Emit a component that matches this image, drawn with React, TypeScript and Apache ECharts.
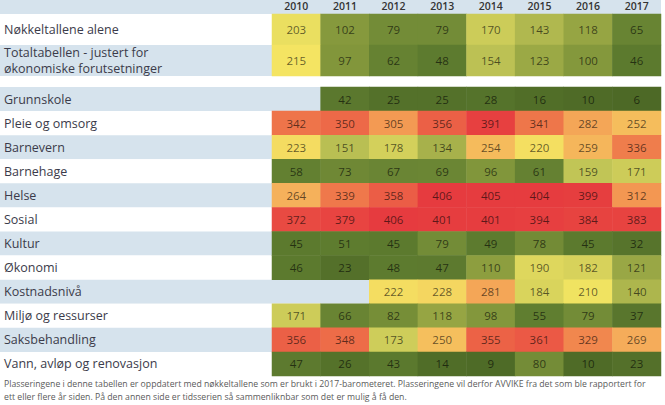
import React, { useEffect, useRef } from "react";
import * as echarts from "echarts";

const years = ["2010", "2011", "2012", "2013", "2014", "2015", "2016", "2017"];

const topRows = ["Nøkkeltallene alene", "Totaltabellen - justert for\nøkonomiske forutsetninger"];
const topValues: (number | null)[][] = [
  [203, 102, 79, 79, 170, 143, 118, 65],
  [215, 97, 62, 48, 154, 123, 100, 46],
];

const sectorRows = [
  "Grunnskole",
  "Pleie og omsorg",
  "Barnevern",
  "Barnehage",
  "Helse",
  "Sosial",
  "Kultur",
  "Økonomi",
  "Kostnadsnivå",
  "Miljø og ressurser",
  "Saksbehandling",
  "Vann, avløp og renovasjon",
];
const grunnskole = [null, 42, 25, 25, 28, 16, 10, 6];
const pleie = [342, 350, 305, 356, 391, 341, 282, 252];
const barnevern = [223, 151, 178, 134, 254, 220, 259, 336];
const barnehage = [58, 73, 67, 69, 96, 61, 159, 171];
const helse = [264, 339, 358, 406, 405, 404, 399, 312];
const sosial = [372, 379, 406, 401, 401, 394, 384, 383];
const kultur = [45, 51, 45, 79, 49, 78, 45, 32];
const okonomi = [46, 23, 48, 47, 110, 190, 182, 121];
const kostnad = [null, null, 222, 228, 281, 184, 210, 140];
const miljo = [171, 66, 82, 118, 98, 55, 79, 37];
const saks = [356, 348, 173, 250, 355, 361, 329, 269];
const vann = [47, 26, 43, 14, 9, 80, 10, 23];
const sectorValues: (number | null)[][] = [
  grunnskole, pleie, barnevern, barnehage, helse, sosial, kultur, okonomi, kostnad, miljo, saks, vann,
];

const footnote =
  "Plasseringene i denne tabellen er oppdatert med nøkkeltallene som er brukt i 2017-barometeret. Plasseringene vil derfor AVVIKE fra det som ble rapportert for\nett eller flere år siden. På den annen side er tidsserien så sammenliknbar som det er mulig å få den.";

const BLUE = "#d6e3ed";
const TEXT = "#3b3b4a";
const FONT = "'Open Sans', sans-serif";

function toData(rows: (number | null)[][]) {
  const out: any[] = [];
  rows.forEach((r, y) =>
    r.forEach((v, x) => {
      if (v !== null) out.push([x, y, v]);
    })
  );
  return out;
}

export default function App() {
  const ref = useRef<HTMLDivElement>(null);
  useEffect(() => {
    if (!ref.current) return;
    const chart = echarts.init(ref.current, undefined, { renderer: "svg" });
    const W = 665;
    const gridLeft = 272;
    const gridRight = 4;
    const cellLabel = {
      show: true,
      formatter: (p: any) => String(p.value[2]),
      fontFamily: FONT,
      fontSize: 11.5,
      color: "rgba(0,0,0,0.6)",
    };
    const labelAxis = (gridIndex: number, data: string[], colors: string[]) => ({
      type: "category",
      gridIndex,
      data,
      inverse: true,
      axisLine: { show: false },
      axisTick: { show: false },
      splitArea: { show: true, areaStyle: { color: colors } },
      axisLabel: {
        inside: true,
        margin: 4,
        fontFamily: FONT,
        fontSize: 12.5,
        color: TEXT,
        lineHeight: 16,
      },
    });
    const heatAxis = (gridIndex: number, data: string[]) => ({
      type: "category",
      gridIndex,
      data,
      inverse: true,
      show: false,
    });
    chart.setOption({
      animation: false,
      graphic: [
        {
          type: "rect",
          z: -10,
          shape: { x: 0, y: 0, width: W - gridRight, height: 14 },
          style: { fill: BLUE },
        },
        {
          type: "text",
          x: 4,
          y: 377,
          style: {
            text: footnote,
            font: `8.7px ${FONT}`,
            fill: "#5a5a5a",
            lineHeight: 13,
          },
        },
      ],
      visualMap: {
        show: false,
        type: "continuous",
        min: 0,
        max: 428,
        seriesIndex: [0, 1],
        inRange: {
          color: [
            "#4b6725",
            "#5f7d30",
            "#8a9c3e",
            "#c3c657",
            "#f4e562",
            "#f5ad5a",
            "#f29250",
            "#e84641",
            "#e4343d",
          ],
        },
      },
      grid: [
        { left: 0, right: gridRight, top: 14, height: 62 },
        { left: gridLeft, right: gridRight, top: 14, height: 62 },
        { left: 0, right: gridRight, top: 87, height: 289 },
        { left: gridLeft, right: gridRight, top: 87, height: 289 },
      ],
      xAxis: [
        { type: "value", gridIndex: 0, show: false },
        {
          type: "category",
          gridIndex: 1,
          data: years,
          position: "top",
          axisLine: { show: false },
          axisTick: { show: false },
          axisLabel: { fontFamily: FONT, fontSize: 10.5, fontWeight: 600, color: "#333", margin: 3 },
        },
        { type: "value", gridIndex: 2, show: false },
        { type: "category", gridIndex: 3, data: years, show: false },
      ],
      yAxis: [
        labelAxis(0, topRows, ["#ffffff", BLUE]),
        heatAxis(1, topRows),
        labelAxis(2, sectorRows, [BLUE, "#ffffff"]),
        heatAxis(3, sectorRows),
      ],
      series: [
        {
          type: "heatmap",
          xAxisIndex: 1,
          yAxisIndex: 1,
          data: toData(topValues),
          label: cellLabel,
          itemStyle: { borderWidth: 0 },
        },
        {
          type: "heatmap",
          xAxisIndex: 3,
          yAxisIndex: 3,
          data: toData(sectorValues),
          label: cellLabel,
          itemStyle: { borderWidth: 0 },
        },
      ],
    });
    return () => chart.dispose();
  }, []);
  return (
    <div
      ref={ref}
      style={{ position: "fixed", left: 0, top: 0, width: 665, height: 405, background: "#fff" }}
    />
  );
}
